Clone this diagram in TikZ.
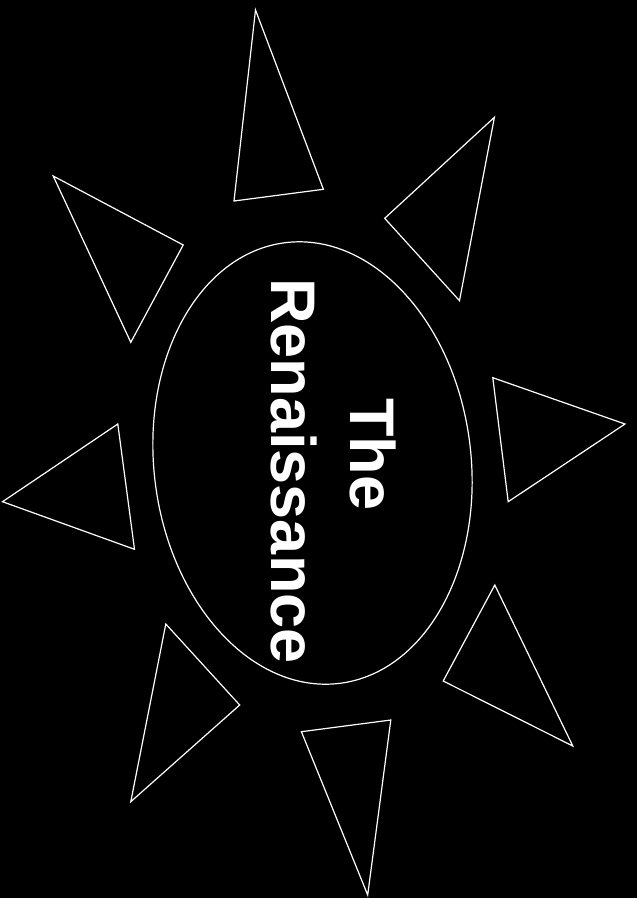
\documentclass[tikz,border=0pt]{standalone}
\usepackage{fontspec}
\setmainfont{Liberation Sans}
\usetikzlibrary{shapes.geometric}
\begin{document}
\begin{tikzpicture}[x=1pt,y=1pt,
  ray/.style={draw=white,line width=1.2pt,line join=miter},
  title/.style={text=white,font=\fontsize{63}{70}\selectfont\bfseries,inner sep=0pt,rotate=-90}]
\fill[black] (0,0) rectangle (637,-898);
\useasboundingbox (0,0) rectangle (637,-898);
% central oval
\node (sun) [ellipse,draw=white,line width=1.2pt,inner sep=0pt,
  minimum width=317pt,minimum height=444pt,rotate=7] at (312.5,-463) {};
\node (the) [title] at (372.7,-454.5) {The};
\node (ren) [title] at (293.6,-471) {Renaissance};
% rays
\draw[ray] (255.5,-10) -- (234,-201) -- (323.4,-189.3) -- cycle;
\draw[ray] (494.4,-117.3) -- (384.7,-218.3) -- (459.5,-300.7) -- cycle;
\draw[ray] (53.2,-176) -- (183.2,-245) -- (130.8,-342.3) -- cycle;
\draw[ray] (492.8,-377.7) -- (625,-424) -- (508.2,-501.7) -- cycle;
\draw[ray] (117.8,-424) -- (2.5,-501.7) -- (134.5,-549.3) -- cycle;
\draw[ray] (165.8,-624) -- (239.7,-705) -- (130.8,-801.7) -- cycle;
\draw[ray] (494.8,-585) -- (443.2,-681) -- (572.8,-746) -- cycle;
\draw[ray] (301.4,-731.7) -- (390.8,-720) -- (367.7,-895) -- cycle;
\end{tikzpicture}
\end{document}
